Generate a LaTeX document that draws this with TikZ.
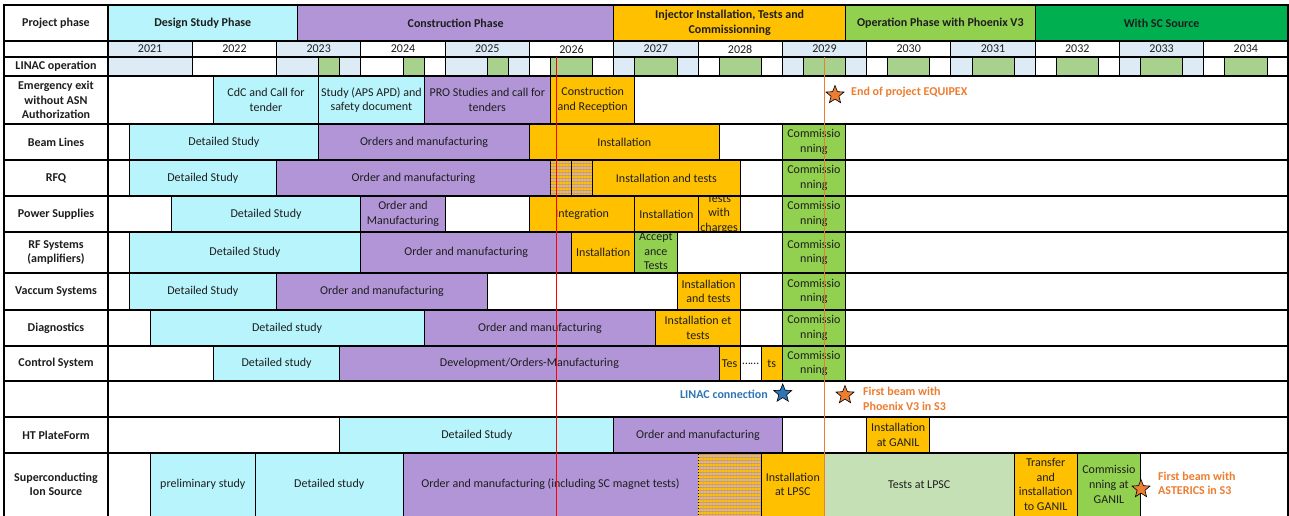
\documentclass[tikz,border=0pt]{standalone}
\usepackage{fontspec}
\setmainfont{Carlito}
\usetikzlibrary{shapes.geometric,patterns.meta}
\definecolor{cy}{RGB}{183,244,251}
\definecolor{pu}{RGB}{177,149,214}
\definecolor{orc}{RGB}{255,192,0}
\definecolor{lg}{RGB}{146,208,80}
\definecolor{gr}{RGB}{0,176,80}
\definecolor{yb}{RGB}{221,235,247}
\definecolor{lgn}{RGB}{169,209,142}
\definecolor{pl}{RGB}{197,224,180}
\definecolor{orT}{RGB}{237,125,49}
\definecolor{blT}{RGB}{46,117,182}
\definecolor{tx}{RGB}{30,30,30}
\newcommand\fs{\fontsize{12}{14.6}\selectfont}
\newcommand\gb[7]{\node[bar,#6,minimum width={(#3-(#2))*21.0714pt},minimum height={(#5-(#4))*1pt}] (#1) at ({108+21.0714*(#2)},#4) {#7};}
\tikzset{
  bar/.style={draw=black,line width=0.8pt,inner sep=0pt,outer sep=0pt,align=center,anchor=north west,font=\fs,text=tx},
  lab/.style={align=center,font=\fs\bfseries,inner sep=0pt,text=tx},
  hatch/.style={fill=pu,postaction={pattern={Lines[angle=0,distance=3pt,line width=1.4pt]},pattern color=orc}},
  gridl/.style={line width=1.2pt,black},
  msT/.style={font=\fs\bfseries,inner sep=0pt,align=left},
  mstar/.style={star,star points=5,star point ratio=2.3,minimum size=19pt,inner sep=0pt,draw=black,line width=0.6pt}
}
\begin{document}
\begin{tikzpicture}[x=1pt,y=-1pt]
\useasboundingbox (0,0) rectangle (1289,516);
\fill[white] (0,0) rectangle (1289,516);

% phase row
\gb{ph1}{0}{9}{5}{41}{fill=cy,font=\fs\bfseries}{Design Study Phase}
\gb{ph2}{9}{24}{5}{41}{fill=pu,font=\fs\bfseries}{Construction Phase}
\gb{ph3}{24}{35}{5}{41}{fill=orc,font=\fs\bfseries}{Injector Installation, Tests and\\Commissionning}
\gb{ph4}{35}{44}{5}{41}{fill=lg,font=\fs\bfseries}{Operation Phase with Phoenix V3}
\gb{ph5}{44}{56}{5}{41}{fill=gr,font=\fs\bfseries}{With SC Source}

% years
\foreach \i/\c in {0/yb,1/white,2/yb,3/white,4/yb,5/white,6/yb,7/white,8/yb,9/white,10/yb,11/white,12/yb,13/white}{
  \pgfmathtruncatemacro\yr{2021+\i}
  \gb{yr\i}{4*\i}{4*\i+4}{41}{57}{fill=\c}{\yr}
}

% LINAC operation
\gb{lin0}{0}{4}{57}{76}{fill=yb}{}
\gb{lin1}{4}{8}{57}{76}{fill=white}{}
\foreach \i/\c in {2/yb,3/white,4/yb}{
  \gb{lin\i a}{4*\i}{4*\i+2}{57}{76}{fill=\c}{}
  \gb{lin\i b}{4*\i+2}{4*\i+3}{57}{76}{fill=lgn}{}
  \gb{lin\i c}{4*\i+3}{4*\i+4}{57}{76}{fill=\c}{}
}
\foreach \i/\c in {5/white,6/yb,7/white,8/yb,9/white,10/yb,11/white,12/yb,13/white}{
  \gb{lin\i a}{4*\i}{4*\i+1}{57}{76}{fill=\c}{}
  \gb{lin\i b}{4*\i+1}{4*\i+3}{57}{76}{fill=lgn}{}
  \gb{lin\i c}{4*\i+3}{4*\i+4}{57}{76}{fill=\c}{}
}

% Emergency exit
\gb{em1}{5}{10}{76}{124}{fill=cy}{CdC and Call for\\tender}
\gb{em2}{10}{15}{76}{124}{fill=cy}{Study (APS APD) and\\safety document}
\gb{em3}{15}{21}{76}{124}{fill=pu}{PRO Studies and call for\\tenders}
\gb{em4}{21}{25}{76}{124}{fill=orc}{Construction\\and Reception}

% Beam lines
\gb{b1}{1}{10}{124}{160}{fill=cy}{Detailed Study}
\gb{b2}{10}{20}{124}{160}{fill=pu}{Orders and manufacturing}
\gb{b3}{20}{29}{124}{160}{fill=orc}{Installation}
\gb{b4}{32}{35}{124}{160}{fill=lg}{Commissio\\nning}

% RFQ
\gb{r1}{1}{8}{160}{196}{fill=cy}{Detailed Study}
\gb{r2}{8}{21}{160}{196}{fill=pu}{Order and manufacturing}
\gb{r3}{21}{22}{160}{196}{hatch}{}
\gb{r4}{22}{23}{160}{196}{hatch}{}
\gb{r5}{23}{30}{160}{196}{fill=orc}{Installation and tests}
\gb{r6}{32}{35}{160}{196}{fill=lg}{Commissio\\nning}

% Power supplies
\gb{p1}{3}{12}{196}{232}{fill=cy}{Detailed Study}
\gb{p2}{12}{16}{196}{232}{fill=pu}{Order and\\Manufacturing}
\gb{p3}{20}{25}{196}{232}{fill=orc}{Integration}
\gb{p4}{25}{28}{196}{232}{fill=orc}{Installation}
\gb{p5}{28}{30}{196}{232}{fill=orc}{}
\begin{scope}
\clip (p5.north west) rectangle (p5.south east);
\node[lab,font=\fs] (p5t) at (p5.center) {Tests\\with\\charges};
\end{scope}
\gb{p6}{32}{35}{196}{232}{fill=lg}{Commissio\\nning}

% RF systems
\gb{f1}{1}{12}{232}{273}{fill=cy}{Detailed Study}
\gb{f2}{12}{22}{232}{273}{fill=pu}{Order and manufacturing}
\gb{f3}{22}{25}{232}{273}{fill=orc}{Installation}
\gb{f4}{25}{27}{232}{273}{fill=lg}{}
\begin{scope}
\clip (f4.north west) rectangle (f4.south east);
\node[lab,font=\fs] (f4t) at ([yshift=1pt]f4.center) {Accept\\ance\\Tests};
\end{scope}
\gb{f5}{32}{35}{232}{273}{fill=lg}{Commissio\\nning}

% Vacuum
\gb{v1}{1}{8}{273}{310}{fill=cy}{Detailed Study}
\gb{v2}{8}{18}{273}{310}{fill=pu}{Order and manufacturing}
\gb{v3}{27}{30}{273}{310}{fill=orc}{Installation\\and tests}
\gb{v4}{32}{35}{273}{310}{fill=lg}{Commissio\\nning}

% Diagnostics
\gb{d1}{2}{15}{310}{346}{fill=cy}{Detailed study}
\gb{d2}{15}{26}{310}{346}{fill=pu}{Order and manufacturing}
\gb{d3}{26}{30}{310}{346}{fill=orc}{Installation et\\tests}
\gb{d4}{32}{35}{310}{346}{fill=lg}{Commissio\\nning}

% Control system
\gb{c1}{5}{11}{346}{381}{fill=cy}{Detailed study}
\gb{c2}{11}{29}{346}{381}{fill=pu}{Development/Orders-Manufacturing}
\gb{c3}{29}{30}{346}{381}{fill=orc}{Tes}
\gb{c4}{30}{31}{346}{381}{draw=none}{……}
\gb{c5}{31}{32}{346}{381}{fill=orc}{ts}
\gb{c6}{32}{35}{346}{381}{fill=lg}{Commissio\\nning}

% HT plateform
\gb{h1}{11}{24}{417}{453}{fill=cy}{Detailed Study}
\gb{h2}{24}{32}{417}{453}{fill=pu}{Order and manufacturing}
\gb{h3}{36}{39}{417}{453}{fill=orc}{Installation\\at GANIL}

% Superconducting ion source
\gb{s1}{2}{7}{453}{516}{fill=cy}{preliminary study}
\gb{s2}{7}{14}{453}{516}{fill=cy}{Detailed study}
\gb{s3}{14}{28}{453}{516}{fill=pu}{Order and manufacturing (including SC magnet tests)}
\gb{s4}{28}{31}{453}{516}{hatch}{}
\gb{s5}{31}{34}{453}{516}{fill=orc}{Installation\\at LPSC}
\gb{s6}{34}{43}{453}{516}{fill=pl,draw=none}{Tests at LPSC}
\gb{s7}{43}{46}{453}{516}{fill=orc}{Transfer\\and\\installation\\to GANIL}
\gb{s8}{46}{49}{453}{516}{fill=lg}{Commissio\\nning at\\GANIL}

% grid lines
\foreach \yy in {41,57,76,124,160,196,232,273,310,346,381,417,453}{
  \draw[gridl] (4,\yy) -- (1288,\yy);
}
\draw[gridl] (108,5) -- (108,516);
\draw[line width=2pt] (4,516) -- (4,5) -- (1288,5) -- (1288,516);

% row labels
\node[lab] (l0) at (56,23) {Project phase};
\node[lab] (l2) at (56,66.5) {LINAC operation};
\node[lab] (l3) at (56,100) {Emergency exit\\without ASN\\Authorization};
\node[lab] (l4) at (56,142) {Beam Lines};
\node[lab] (l5) at (56,178) {RFQ};
\node[lab] (l6) at (56,214) {Power Supplies};
\node[lab] (l7) at (56,252.5) {RF Systems\\(amplifiers)};
\node[lab] (l8) at (56,291.5) {Vaccum Systems};
\node[lab] (l9) at (56,328) {Diagnostics};
\node[lab] (l10) at (56,363.5) {Control System};
\node[lab] (l12) at (56,435) {HT PlateForm};
\node[lab] (l13) at (56,484.5) {Superconducting\\Ion Source};

% milestone vertical lines
\coordinate (redT) at (556.7,57);
\coordinate (redB) at (556.7,516);
\coordinate (oraT) at (824.4,57);
\coordinate (oraB) at (824.4,516);
\draw[red,line width=1.2pt] (redT) -- (redB);
\draw[orT,line width=1.2pt] (oraT) -- (oraB);

% stars and milestone texts
\node[mstar,fill=orT] (st1) at (835,95) {};
\node[msT,text=orT,anchor=west] (t1) at (851,92) {End of project EQUIPEX};
\node[mstar,fill=blT] (st2) at (782.7,393.5) {};
\node[msT,text=blT,anchor=east] (t2) at (768,394) {LINAC connection};
\node[mstar,fill=orT] (st3) at (845,395) {};
\node[msT,text=orT,anchor=west] (t3) at (863,399) {First beam with\\Phoenix V3 in S3};
\node[mstar,fill=orT] (st4) at (1141,489) {};
\node[msT,text=orT,anchor=west] (t4) at (1158,483.5) {First beam with\\ASTERICS in S3};
\end{tikzpicture}
\end{document}
